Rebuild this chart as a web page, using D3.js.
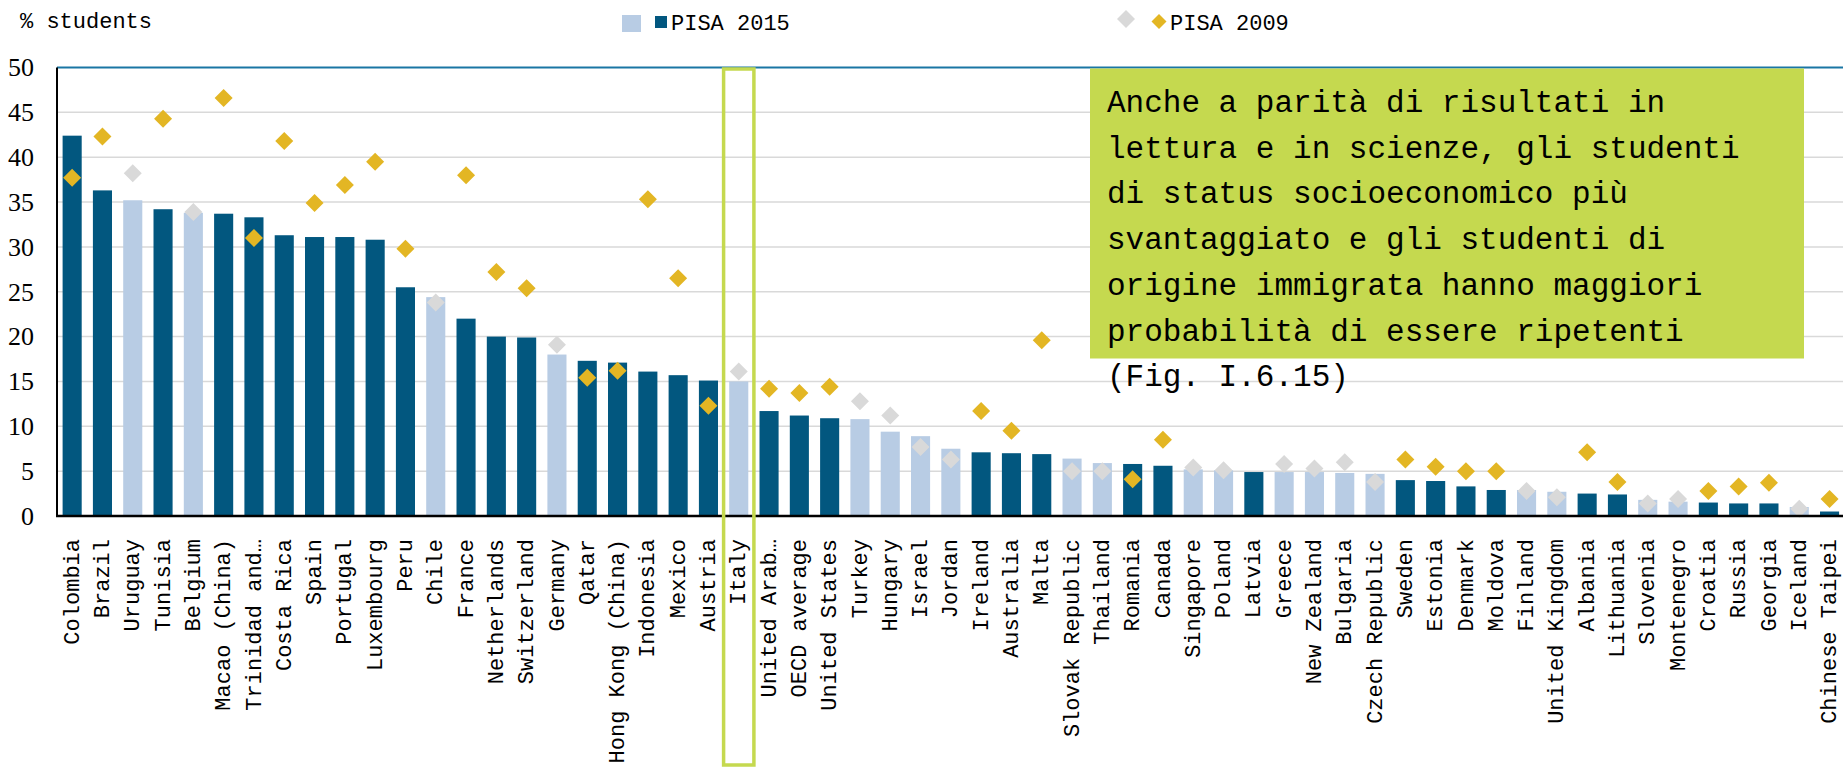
<!DOCTYPE html>
<html lang="en">
<head>
    <meta charset="UTF-8">
    <title>Grade repetition PISA 2015 vs 2009</title>
    <script src="https://cdnjs.cloudflare.com/ajax/libs/d3/7.8.5/d3.min.js"></script>
    <style>
        body {
            margin: 0;
            overflow: hidden;
            background: #fff;
        }
        svg text {
            font-family: "Liberation Mono", monospace;
            fill: #000;
        }
    </style>
</head>
<body>
    <script>
        const countries = ['Colombia', 'Brazil', 'Uruguay', 'Tunisia', 'Belgium', 'Macao (China)', 'Trinidad and\u2026',
            'Costa Rica', 'Spain', 'Portugal', 'Luxembourg', 'Peru', 'Chile', 'France', 'Netherlands', 'Switzerland',
            'Germany', 'Qatar', 'Hong Kong (China)', 'Indonesia', 'Mexico', 'Austria', 'Italy', 'United Arab\u2026',
            'OECD average', 'United States', 'Turkey', 'Hungary', 'Israel', 'Jordan', 'Ireland', 'Australia', 'Malta',
            'Slovak Republic', 'Thailand', 'Romania', 'Canada', 'Singapore', 'Poland', 'Latvia', 'Greece', 'New Zealand',
            'Bulgaria', 'Czech Republic', 'Sweden', 'Estonia', 'Denmark', 'Moldova', 'Finland', 'United Kingdom',
            'Albania', 'Lithuania', 'Slovenia', 'Montenegro', 'Croatia', 'Russia', 'Georgia', 'Iceland', 'Chinese Taipei'];

        // % of students who repeated a grade
        const pisa2015 = [42.4, 36.3, 35.2, 34.2, 33.8, 33.7, 33.3, 31.3, 31.1, 31.1, 30.8, 25.5, 24.4, 22.0, 20.0,
            19.9, 18.0, 17.3, 17.1, 16.1, 15.7, 15.1, 15.0, 11.7, 11.2, 10.9, 10.8, 9.4, 8.9, 7.5, 7.1, 7.0, 6.9, 6.4,
            5.9, 5.8, 5.6, 5.2, 5.1, 4.9, 4.9, 4.9, 4.8, 4.7, 4.0, 3.9, 3.3, 2.9, 2.9, 2.7, 2.5, 2.4, 1.8, 1.6, 1.5,
            1.4, 1.4, 1.0, 0.5];
        const pisa2009 = [37.7, 42.3, 38.2, 44.3, 33.9, 46.6, 31.0, 41.8, 34.9, 36.9, 39.5, 29.8, 23.8, 38.0, 27.2,
            25.4, 19.1, 15.4, 16.2, 35.3, 26.5, 12.3, 16.1, 14.2, 13.7, 14.4, 12.8, 11.2, 7.7, 6.3, 11.7, 9.5, 19.6,
            5.0, 5.0, 4.1, 8.5, 5.4, 5.1, null, 5.8, 5.3, 6.0, 3.8, 6.3, 5.5, 5.0, 5.0, 2.8, 2.1, 7.1, 3.8, 1.4, 1.9,
            2.8, 3.3, 3.7, 0.8, 1.9];

        // 1 = significant (dark bar / gold diamond), 0 = not significant
        const sig2015 = [1, 1, 0, 1, 0, 1, 1, 1, 1, 1, 1, 1, 0, 1, 1, 1, 0, 1, 1, 1, 1, 1, 0, 1, 1, 1, 0, 0, 0, 0,
            1, 1, 1, 0, 0, 1, 1, 0, 0, 1, 0, 0, 0, 0, 1, 1, 1, 1, 0, 0, 1, 1, 0, 0, 1, 1, 1, 0, 1];
        const sig2009 = [1, 1, 0, 1, 0, 1, 1, 1, 1, 1, 1, 1, 0, 1, 1, 1, 0, 1, 1, 1, 1, 1, 0, 1, 1, 1, 0, 0, 0, 0,
            1, 1, 1, 0, 0, 1, 1, 0, 0, 1, 0, 0, 0, 0, 1, 1, 1, 1, 0, 0, 1, 1, 0, 0, 1, 1, 1, 0, 1];

        const yTicks = [0, 5, 10, 15, 20, 25, 30, 35, 40, 45, 50];
        const highlight = 'Italy';
        const noteLines = ['Anche a parit\u00e0 di risultati in', 'lettura e in scienze, gli studenti',
            'di status socioeconomico pi\u00f9', 'svantaggiato e gli studenti di',
            'origine immigrata hanno maggiori', 'probabilit\u00e0 di essere ripetenti', '(Fig. I.6.15)'];

        const width = 1843;
        const height = 769;
        const plotLeft = 57, plotTop = 67.5, plotBottom = 516;
        const step = 30.3;

        const colors = {
            dark: '#02577f',
            light: '#b8cce4',
            gold: '#e3b624',
            grey: '#d9d9d9',
            green: '#c5d94f'
        };

        const svg = d3.select('body')
            .append('svg')
            .attr('width', width)
            .attr('height', height);

        const x = d3.scaleBand()
            .domain(countries)
            .range([plotLeft, plotLeft + countries.length * step])
            .paddingInner(0.37)
            .paddingOuter(0.185);

        const y = d3.scaleLinear()
            .domain([0, 50])
            .range([plotBottom, plotTop]);

        const data = countries.map((c, i) => ({
            name: c, v15: pisa2015[i], v09: pisa2009[i], s15: sig2015[i], s09: sig2009[i]
        }));

        // gridlines
        svg.append('g')
            .selectAll('line')
            .data(yTicks.filter(t => t > 0))
            .join('line')
            .attr('x1', plotLeft)
            .attr('x2', width)
            .attr('y1', d => y(d))
            .attr('y2', d => y(d))
            .attr('stroke', d => d === 50 ? '#1a76a4' : '#d9d9d9')
            .attr('stroke-width', d => d === 50 ? 2 : 1.5);

        // y axis labels
        const yAxis = svg.append('g')
            .attr('transform', `translate(${plotLeft},0)`)
            .call(d3.axisLeft(y).tickValues(yTicks).tickSize(0).tickPadding(23));
        yAxis.select('.domain').remove();
        yAxis.selectAll('text')
            .style('font-family', '"Liberation Serif", serif')
            .style('font-size', '26px')
            .attr('fill', '#000');

        // bars
        svg.append('g')
            .selectAll('rect')
            .data(data)
            .join('rect')
            .attr('x', d => x(d.name))
            .attr('width', x.bandwidth())
            .attr('y', d => y(d.v15))
            .attr('height', d => y(0) - y(d.v15))
            .attr('fill', d => d.s15 ? colors.dark : colors.light);

        // diamonds
        const diamond = r => `M0,${-r}L${r},0L0,${r}L${-r},0Z`;
        svg.append('g')
            .selectAll('path')
            .data(data.filter(d => d.v09 != null))
            .join('path')
            .attr('d', diamond(9))
            .attr('transform', d => `translate(${x(d.name) + x.bandwidth() / 2},${y(d.v09)})`)
            .attr('fill', d => d.s09 ? colors.gold : colors.grey);

        // axis lines
        svg.append('line')
            .attr('x1', plotLeft).attr('x2', plotLeft)
            .attr('y1', plotTop).attr('y2', plotBottom + 1)
            .attr('stroke', '#000').attr('stroke-width', 2);
        svg.append('line')
            .attr('x1', plotLeft - 1).attr('x2', width)
            .attr('y1', plotBottom).attr('y2', plotBottom)
            .attr('stroke', '#000').attr('stroke-width', 2.5);

        // x labels
        svg.append('g')
            .selectAll('text')
            .data(countries)
            .join('text')
            .attr('transform', d => `translate(${x(d) + x.bandwidth() / 2},539) rotate(-90)`)
            .attr('dy', '0.3em')
            .attr('text-anchor', 'end')
            .style('font-size', '22px')
            .text(d => d);

        // highlight Italy
        const slot = x.step() * x.paddingInner() / 2;
        svg.append('rect')
            .attr('x', x(highlight) - slot)
            .attr('y', 69)
            .attr('width', x.step())
            .attr('height', 696)
            .attr('fill', 'none')
            .attr('stroke', colors.green)
            .attr('stroke-width', 3.5);

        // note box
        svg.append('rect')
            .attr('x', 1090)
            .attr('y', 68.5)
            .attr('width', 714)
            .attr('height', 290)
            .attr('fill', colors.green);
        svg.append('g')
            .selectAll('text')
            .data(noteLines)
            .join('text')
            .attr('x', 1107)
            .attr('y', (d, i) => 112 + i * 45.7)
            .style('font-size', '31px')
            .text(d => d);

        // title + legend
        svg.append('text')
            .attr('x', 20).attr('y', 28)
            .style('font-size', '22px')
            .text('% students');

        const legend = svg.append('g');
        legend.append('rect')
            .attr('x', 622).attr('y', 15).attr('width', 19).attr('height', 17)
            .attr('fill', colors.light);
        legend.append('rect')
            .attr('x', 655).attr('y', 16).attr('width', 12).attr('height', 12)
            .attr('fill', colors.dark);
        legend.append('text')
            .attr('x', 671).attr('y', 30)
            .style('font-size', '22px')
            .text('PISA 2015');
        legend.append('path')
            .attr('d', diamond(9))
            .attr('transform', 'translate(1126,19)')
            .attr('fill', colors.grey);
        legend.append('path')
            .attr('d', diamond(7.5))
            .attr('transform', 'translate(1159,21.5)')
            .attr('fill', colors.gold);
        legend.append('text')
            .attr('x', 1170).attr('y', 30)
            .style('font-size', '22px')
            .text('PISA 2009');
    </script>
</body>
</html>
